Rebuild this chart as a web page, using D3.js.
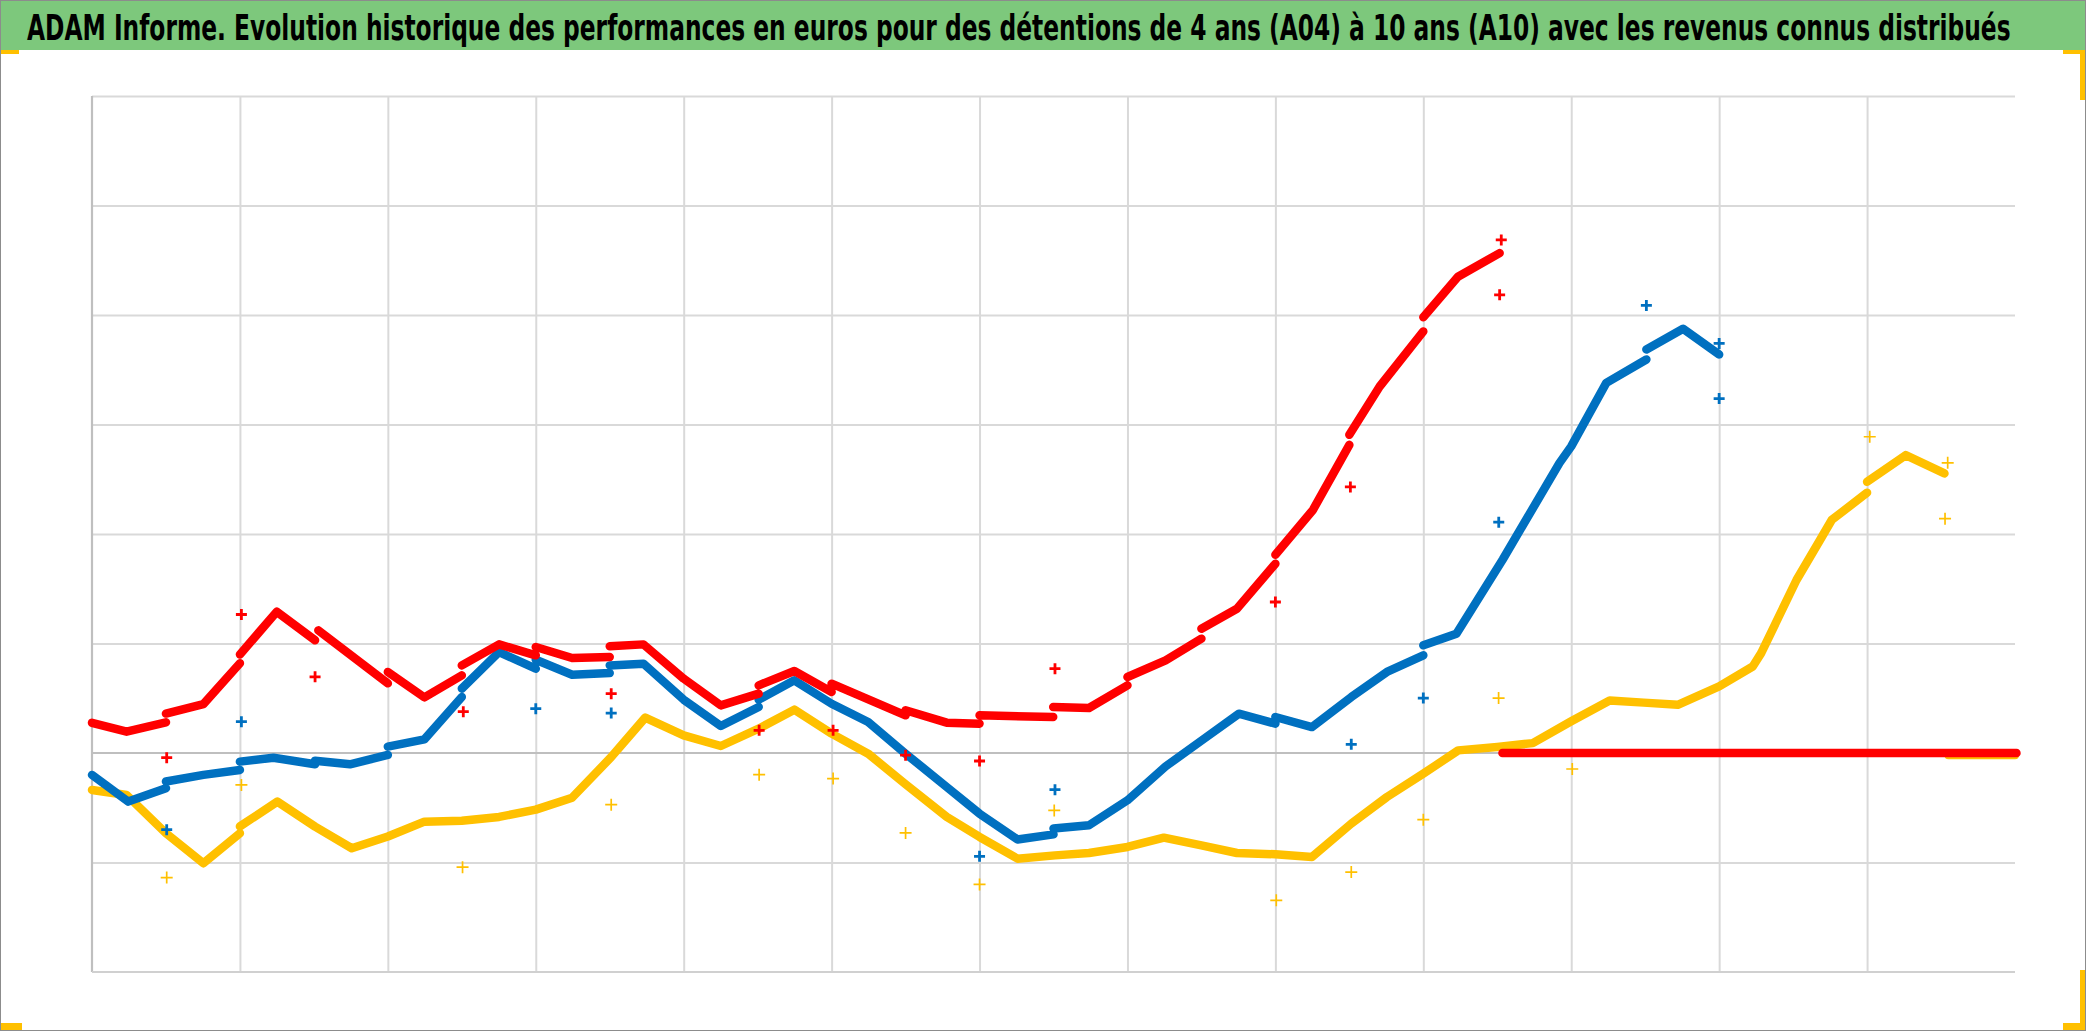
<!DOCTYPE html>
<html>
<head>
<meta charset="utf-8">
<script src="https://cdn.jsdelivr.net/npm/d3@7"></script>
<style>
  html, body { margin: 0; padding: 0; background: #ffffff; }
  svg { display: block; }
</style>
</head>
<body>
<div id="chart"></div>
<script>
// ---- Data (x in grid periods 0..13, y in grid units) ----
const titleText = "ADAM Informe. Evolution historique des performances en euros pour des détentions de 4 ans (A04) à 10 ans (A10) avec les revenus connus distribués";

const xTicks = [1,2,3,4,5,6,7,8,9,10,11,12];
const yTicks = [-1,1,2,3,4,5,6];

// red series (A10) – null marks a jump in the curve
const redLine = [
  [0,0.276],[0.234,0.195],[0.5,0.28], null,
  [0.5,0.36],[0.753,0.447],[1.0,0.82], null,
  [1.0,0.9],[1.249,1.29],[1.508,1.03], null,
  [1.53,1.12],[2.0,0.636], null,
  [2.0,0.74],[2.247,0.508],[2.5,0.709], null,
  [2.5,0.80],[2.752,0.992],[3.0,0.892], null,
  [3.0,0.968],[3.246,0.868],[3.5,0.877], null,
  [3.5,0.974],[3.728,0.992],[4.0,0.679],[4.251,0.435],[4.507,0.542], null,
  [4.507,0.618],[4.748,0.749],[5.0,0.557], null,
  [5.0,0.633],[5.5,0.344], null,
  [5.5,0.39],[5.778,0.277],[6.0,0.268], null,
  [6.0,0.344],[6.498,0.329], null,
  [6.498,0.42],[6.74,0.411],[7.0,0.618], null,
  [7.0,0.694],[7.258,0.846],[7.5,1.044], null,
  [7.5,1.135],[7.74,1.318],[8.0,1.729], null,
  [8.0,1.81],[8.254,2.22],[8.5,2.814], null,
  [8.5,2.906],[8.705,3.347],[9.0,3.85], null,
  [9.0,3.98],[9.234,4.35],[9.516,4.565]
];
const redZero = [[9.535,0],[13.01,0]];

// blue series
const blueLine = [
  [0,-0.2],[0.245,-0.444],[0.5,-0.322], null,
  [0.5,-0.26],[0.753,-0.2],[1.0,-0.155], null,
  [1.0,-0.079],[1.226,-0.043],[1.508,-0.103], null,
  [1.508,-0.07],[1.744,-0.103],[2.0,-0.018], null,
  [2.0,0.058],[2.247,0.125],[2.5,0.511], null,
  [2.5,0.588],[2.752,0.922],[3.0,0.77], null,
  [3.0,0.852],[3.246,0.715],[3.5,0.73], null,
  [3.5,0.80],[3.728,0.816],[4.0,0.487],[4.251,0.247],[4.507,0.42], null,
  [4.507,0.487],[4.748,0.664],[5.0,0.45],[5.247,0.283],[5.5,-0.006],[5.778,-0.31],[6.0,-0.554],[6.257,-0.79],[6.5,-0.743], null,
  [6.5,-0.69],[6.74,-0.66],[7.0,-0.432],[7.258,-0.122],[7.519,0.131],[7.753,0.359],[8.0,0.268], null,
  [8.0,0.329],[8.247,0.237],[8.513,0.511],[8.754,0.74],[9.0,0.892], null,
  [9.0,0.983],[9.224,1.09],[9.537,1.767],[9.92,2.647],[10.0,2.80],[10.237,3.38],[10.508,3.594], null,
  [10.508,3.685],[10.756,3.874],[11.0,3.64]
];

// yellow series (A04)
const yellowLine = [
  [0,-0.338],[0.234,-0.383],[0.5,-0.733],[0.753,-1.007],[1.0,-0.733], null,
  [1.0,-0.67],[1.253,-0.444],[1.508,-0.672],[1.756,-0.87],[2.0,-0.763],[2.247,-0.627],[2.5,-0.618],
  [2.752,-0.584],[3.0,-0.517],[3.246,-0.408],[3.51,-0.037],[3.74,0.323],[4.0,0.161],[4.251,0.064],
  [4.507,0.222],[4.748,0.396],[5.0,0.177],[5.247,-0.006],[5.5,-0.286],[5.778,-0.584],[6.0,-0.767],
  [6.257,-0.965],[6.51,-0.935],[6.74,-0.913],[7.0,-0.858],[7.246,-0.773],[7.5,-0.843],[7.74,-0.913],
  [8.0,-0.925],[8.247,-0.95],[8.513,-0.645],[8.754,-0.402],[9.0,-0.189],[9.236,0.024],[9.5,0.055],
  [9.74,0.09],[10.0,0.29],[10.26,0.48],[10.49,0.46],[10.72,0.44],[11.0,0.608],[11.227,0.79],
  [11.284,0.912],[11.523,1.58],[11.682,1.945],[11.761,2.128],[12.0,2.377], null,
  [12.0,2.477],[12.261,2.72],[12.523,2.553]
];
const yellowZero = [[12.55,-0.02],[13.0,-0.02]];

// distributed revenues (isolated markers)
const redRev = [[0.505,-0.043],[1.01,1.265],[1.508,0.696],[2.51,0.377],[3.51,0.542],[4.51,0.207],[5.01,0.207],[5.5,-0.02],[6.0,-0.073],[6.51,0.77],[8.0,1.379],[8.507,2.43],[9.516,4.184],[9.527,4.686]];
const blueRev = [[0.505,-0.70],[1.01,0.286],[3.0,0.405],[3.51,0.365],[6.0,-0.944],[6.51,-0.335],[8.513,0.079],[9.0,0.502],[9.51,2.108],[10.508,4.087],[11.0,3.74],[11.0,3.237]];
const yellowRev = [[0.505,-1.138],[1.01,-0.292],[2.505,-1.043],[3.51,-0.472],[4.51,-0.198],[5.01,-0.234],[5.5,-0.73],[6.0,-1.2],[6.505,-0.524],[8.006,-1.345],[8.513,-1.087],[9.0,-0.609],[9.509,0.502],[10.007,-0.146],[12.018,2.888],[12.545,2.65],[12.527,2.14]];

// ---- Drawing ----
const W = 2086, H = 1031;
const RED = "#FF0000", BLUE = "#0070C0", YELLOW = "#FFC000";

const svg = d3.select("#chart").append("svg").attr("width", W).attr("height", H);

svg.append("rect").attr("x",0).attr("y",0).attr("width",W).attr("height",H).attr("fill","#fff");

// title bar
svg.append("rect").attr("x",0).attr("y",0).attr("width",W).attr("height",50).attr("fill","#7DC87C");
const title = svg.append("text")
  .attr("x", 0).attr("y", 0)
  .attr("font-family", "'Liberation Sans Narrow','DejaVu Sans Condensed','Open Sans',sans-serif")
  .attr("font-weight", "bold")
  .attr("font-size", 35)
  .attr("fill", "#000")
  .text(titleText);
const naturalW = title.node().getComputedTextLength();
const targetW = 1985;
title.attr("transform", `translate(27,40) scale(${targetW / naturalW},1)`);

const x = d3.scaleLinear().domain([0, 13]).range([92, 2015]);
const y = d3.scaleLinear().domain([-2, 6]).range([972, 96]);

// gridlines via axes
const gx = svg.append("g").attr("transform", `translate(0,${y(-2)})`)
  .call(d3.axisBottom(x).tickValues(xTicks).tickSize(-(y(-2) - y(6))).tickFormat(""));
gx.select(".domain").remove();
gx.selectAll(".tick line").attr("stroke", "#D9D9D9").attr("stroke-width", 2);

const gy = svg.append("g").attr("transform", `translate(${x(0)},0)`)
  .call(d3.axisLeft(y).tickValues(yTicks).tickSize(-(x(13) - x(0))).tickFormat(""));
gy.select(".domain").remove();
gy.selectAll(".tick line").attr("stroke", "#D9D9D9").attr("stroke-width", 2);

// zero line, left axis, bottom axis
svg.append("line").attr("x1", x(0)).attr("x2", x(13)).attr("y1", y(0)).attr("y2", y(0))
  .attr("stroke", "#BFBFBF").attr("stroke-width", 2.2);
svg.append("line").attr("x1", x(0)).attr("x2", x(0)).attr("y1", y(6)).attr("y2", y(-2))
  .attr("stroke", "#BFBFBF").attr("stroke-width", 2.2);
svg.append("line").attr("x1", x(0)).attr("x2", x(13)).attr("y1", y(-2)).attr("y2", y(-2))
  .attr("stroke", "#D0D0D0").attr("stroke-width", 2);

const line = d3.line().defined(d => d !== null).x(d => x(d[0])).y(d => y(d[1]));

function drawLine(data, color, width) {
  svg.append("path").datum(data)
    .attr("d", line)
    .attr("fill", "none")
    .attr("stroke", color)
    .attr("stroke-width", width)
    .attr("stroke-linejoin", "round")
    .attr("stroke-linecap", "round");
}

drawLine(yellowZero, YELLOW, 8);
drawLine(yellowLine, YELLOW, 8.5);
drawLine(blueLine, BLUE, 8.5);
drawLine(redLine, RED, 8.5);
drawLine(redZero, RED, 8.5);

const plus = (s) => `M${-s},0H${s}M0,${-s}V${s}`;

function drawRev(data, color, size, sw) {
  svg.append("g").selectAll("path").data(data).join("path")
    .attr("transform", d => `translate(${x(d[0])},${y(d[1])})`)
    .attr("d", plus(size))
    .attr("fill", "none")
    .attr("stroke", color)
    .attr("stroke-width", sw);
}
drawRev(yellowRev, YELLOW, 6, 1.7);
drawRev(blueRev, BLUE, 5.5, 2.8);
drawRev(redRev, RED, 5.5, 2.8);

// corner handles
const handles = [
  [0, 50, 19, 4], [2063, 50, 23, 4], [2080, 50, 5, 50],
  [0, 1023, 22, 8], [2080, 970, 5, 60], [2063, 1023, 22, 7]
];
svg.append("g").selectAll("rect").data(handles).join("rect")
  .attr("x", d => d[0]).attr("y", d => d[1]).attr("width", d => d[2]).attr("height", d => d[3])
  .attr("fill", YELLOW);

// outer border
svg.append("rect").attr("x", 0.5).attr("y", 0.5).attr("width", W - 1).attr("height", H - 1)
  .attr("fill", "none").attr("stroke", "#8C8C8C").attr("stroke-width", 1);
</script>
</body>
</html>
